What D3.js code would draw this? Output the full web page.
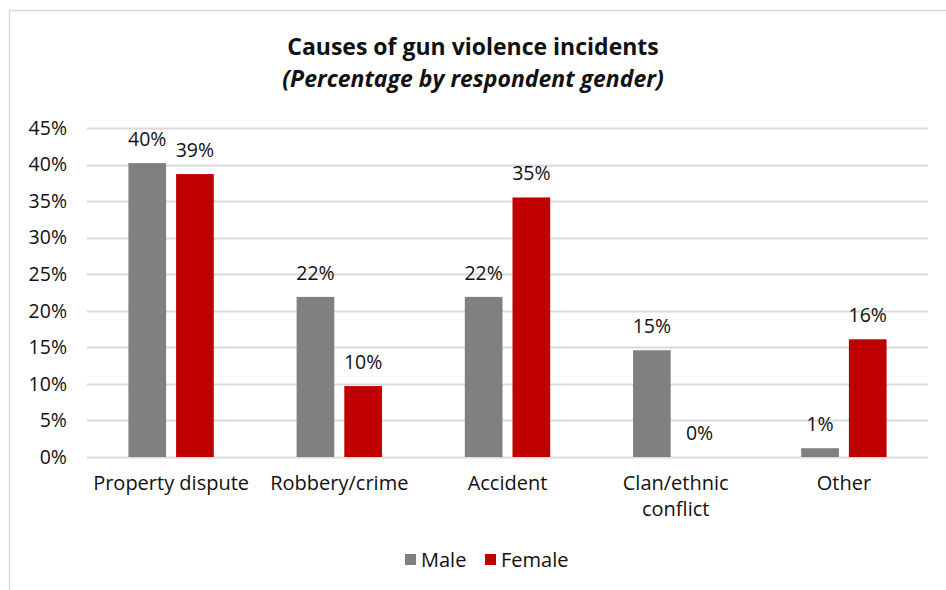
<!DOCTYPE html>
<html>
<head>
<meta charset="utf-8">
<script src="https://cdn.jsdelivr.net/npm/d3@7"></script>
<style>
  html, body { margin: 0; padding: 0; background: #fff; }
  svg { display: block; font-family: "Open Sans", Lato, sans-serif; }
</style>
</head>
<body>
<svg id="chart" width="946" height="590"></svg>
<script>
// Chart data
const categories = ["Property dispute", "Robbery/crime", "Accident", "Clan/ethnic conflict", "Other"];
const categoryLines = [["Property dispute"], ["Robbery/crime"], ["Accident"], ["Clan/ethnic", "conflict"], ["Other"]];
const seriesNames = ["Male", "Female"];
const maleValues = [40.2, 21.9, 21.9, 14.6, 1.2];
const femaleValues = [38.7, 9.7, 35.5, 0, 16.1];
const valueLabels = [["40%", "22%", "22%", "15%", "1%"], ["39%", "10%", "35%", "0%", "16%"]];
const yTicks = [0, 5, 10, 15, 20, 25, 30, 35, 40, 45];
const colors = ["#808080", "#c00000"];

const svg = d3.select("#chart");
const W = 946, H = 590;
const bodyFont = "'Open Sans', Lato, sans-serif";

// outer frame
svg.append("rect")
  .attr("x", 9.5).attr("y", 10.5)
  .attr("width", W + 10).attr("height", H + 10)
  .attr("fill", "#fff").attr("stroke", "#d9d9d9").attr("stroke-width", 1.5);

// titles
svg.append("text").attr("x", 473).attr("y", 55).attr("text-anchor", "middle")
  .attr("font-family", bodyFont)
  .attr("font-size", 23).attr("font-weight", 700).attr("fill", "#111")
  .text("Causes of gun violence incidents");
svg.append("text").attr("x", 473).attr("y", 87).attr("text-anchor", "middle")
  .attr("font-family", bodyFont)
  .attr("font-size", 23).attr("font-weight", 700).attr("font-style", "italic").attr("fill", "#111")
  .text("(Percentage by respondent gender)");

const plot = { left: 87, right: 928, top: 128, bottom: 457 };

const x = d3.scaleBand().domain(categories).range([plot.left, plot.right]);
const y = d3.scaleLinear().domain([0, 45]).range([plot.bottom, plot.top]);
const barW = x.bandwidth() * 0.224;
const gap = 10;
const xs = d3.scaleOrdinal().domain(seriesNames)
  .range([-gap / 2 - barW, gap / 2]);

// gridlines
svg.append("g").selectAll("line").data(yTicks).join("line")
  .attr("x1", plot.left).attr("x2", plot.right)
  .attr("y1", d => Math.round(y(d)) + 0.5).attr("y2", d => Math.round(y(d)) + 0.5)
  .attr("stroke", "#d9d9d9").attr("stroke-width", 2);

// y axis labels
const yAxis = svg.append("g").attr("transform", `translate(${plot.left - 20},0)`)
  .call(d3.axisLeft(y).tickValues(yTicks).tickFormat(d => d + "%").tickSize(0).tickPadding(0));
yAxis.select(".domain").remove();
yAxis.selectAll("text").attr("font-size", 19.5).attr("fill", "#111")
  .attr("font-family", bodyFont);

// bars
const series = [maleValues, femaleValues];
series.forEach((vals, si) => {
  const g = svg.append("g");
  g.selectAll("rect").data(vals).join("rect")
    .attr("x", (d, i) => x(categories[i]) + x.bandwidth() / 2 + xs(seriesNames[si]))
    .attr("y", d => y(d))
    .attr("width", barW)
    .attr("height", d => y(0) - y(d))
    .attr("fill", colors[si]);
  g.selectAll("text").data(vals).join("text")
    .attr("x", (d, i) => x(categories[i]) + x.bandwidth() / 2 + xs(seriesNames[si]) + barW / 2)
    .attr("y", d => y(d) - 17)
    .attr("text-anchor", "middle")
    .attr("font-size", 19.5).attr("fill", "#111")
    .text((d, i) => valueLabels[si][i]);
});

// category labels
const cg = svg.append("g");
categories.forEach((c, i) => {
  const t = cg.append("text")
    .attr("x", x(c) + x.bandwidth() / 2)
    .attr("y", 490)
    .attr("text-anchor", "middle")
    .attr("font-size", 20).attr("fill", "#111");
  categoryLines[i].forEach((line, li) => {
    t.append("tspan").attr("x", x(c) + x.bandwidth() / 2).attr("dy", li === 0 ? 0 : 26).text(line);
  });
});

// legend
const legendX = [405, 485];
const lg = svg.append("g");
seriesNames.forEach((s, i) => {
  lg.append("rect").attr("x", legendX[i]).attr("y", 554).attr("width", 11).attr("height", 11).attr("fill", colors[i]);
  lg.append("text").attr("x", legendX[i] + 16).attr("y", 566.5)
    .attr("font-size", 20).attr("fill", "#111").text(s);
});
</script>
</body>
</html>
